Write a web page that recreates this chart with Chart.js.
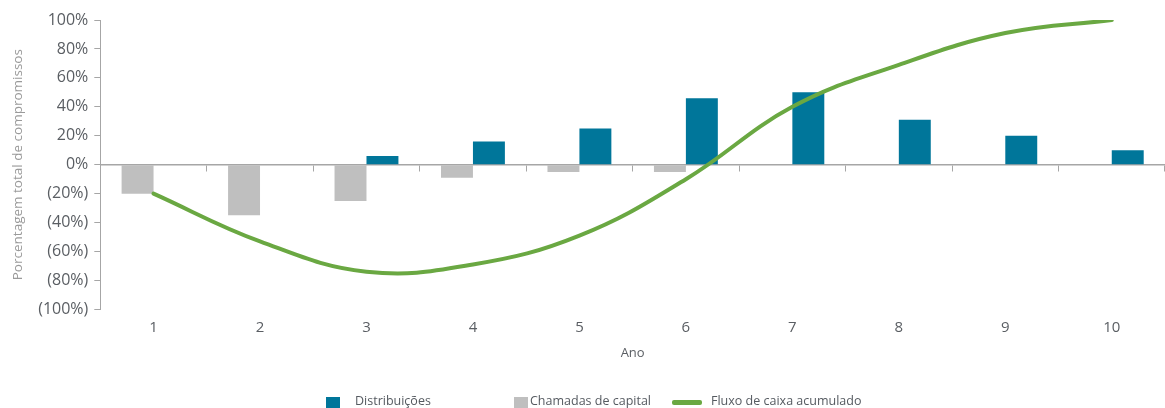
<!DOCTYPE html>
<html lang="pt">
<head>
<meta charset="utf-8">
<title>Fluxo de caixa</title>
<script src="https://cdn.jsdelivr.net/npm/chart.js@4.4.1/dist/chart.umd.min.js"></script>
<style>
  html, body { margin: 0; padding: 0; background: #ffffff; }
  #wrap { position: relative; width: 1165px; height: 408px; overflow: hidden; }
  #chart { position: absolute; left: 0; top: 0; }
  .legend-item { position: absolute; font-family: "Open Sans", sans-serif; font-size: 12.5px; color: #555a60; white-space: nowrap; line-height: 14px; }
  .legend-swatch { position: absolute; }
</style>
</head>
<body>
<div id="wrap">
  <canvas id="chart" width="1165" height="408"></canvas>
</div>
<script>
// Anos do ciclo do fundo
const anos = ['1', '2', '3', '4', '5', '6', '7', '8', '9', '10'];

// Percentual do total de compromissos
const chamadasDeCapital = [-20, -35, -25, -9, -5, -5, null, null, null, null];
const distribuicoes     = [null, null, 6, 16, 25, 46, 50, 31, 20, 10];
const fluxoAcumulado    = [-20, -53, -74, -69, -49, -10, 40, 69, 91, 100];

// Eixo vertical
const yMin = -100, yMax = 100, yStep = 20;

const corDistribuicoes = '#00769a';
const corChamadas = '#bfbfbf';
const corFluxo = '#6aa842';
const corEixo = '#a6a6a6';
const corTexto = '#5a5e63';

function formatarPercentual(v) {
  return v < 0 ? '(' + Math.abs(v) + '%)' : v + '%';
}

const ctx = document.getElementById('chart').getContext('2d');
const chart = new Chart(ctx, {
  data: {
    labels: anos,
    datasets: [
      {
        type: 'line',
        label: 'Fluxo de caixa acumulado',
        data: fluxoAcumulado,
        borderColor: corFluxo,
        borderWidth: 4,
        borderCapStyle: 'round',
        pointRadius: 0,
        tension: 0.4,
        fill: false,
        order: 0
      },
      {
        type: 'bar',
        label: 'Chamadas de capital',
        data: chamadasDeCapital,
        backgroundColor: corChamadas,
        categoryPercentage: 0.6,
        barPercentage: 1.0,
        order: 1
      },
      {
        type: 'bar',
        label: 'Distribuições',
        data: distribuicoes,
        backgroundColor: corDistribuicoes,
        categoryPercentage: 0.6,
        barPercentage: 1.0,
        order: 1
      }
    ]
  },
  options: {
    responsive: false,
    animation: false,
    layout: { padding: { left: 10, top: 20, right: 0, bottom: 47 } },
    plugins: {
      legend: { display: false },
      tooltip: { enabled: false }
    },
    scales: {
      x: {
        type: 'category',
        position: 'bottom',
        offset: true,
        grid: { display: false, drawTicks: false },
        border: { display: false },
        ticks: {
          color: corTexto,
          font: { family: 'Open Sans', size: 15 },
          padding: 9,
          maxRotation: 0
        },
        title: {
          display: true,
          text: 'Ano',
          color: corTexto,
          font: { family: 'Open Sans', size: 13 },
          padding: { top: 0, bottom: 0 }
        }
      },
      // Linha do zero com marcas entre os anos
      xZero: {
        type: 'category',
        labels: anos,
        position: { y: 0 },
        offset: true,
        grid: {
          display: true,
          drawOnChartArea: false,
          drawTicks: true,
          tickLength: 6,
          color: corEixo,
          lineWidth: 1,
          offset: true
        },
        border: { display: true, color: corEixo, width: 1.5 },
        ticks: { display: false }
      },
      y: {
        min: yMin,
        max: yMax,
        grid: {
          drawOnChartArea: false,
          drawTicks: true,
          tickLength: 6,
          color: corEixo
        },
        border: { display: true, color: corEixo, width: 1 },
        ticks: {
          stepSize: yStep,
          color: corTexto,
          font: { family: 'Open Sans', size: 16 },
          padding: 6,
          callback: (v) => formatarPercentual(v)
        },
        title: {
          display: true,
          text: 'Porcentagem total de compromissos',
          color: '#9a9a9a',
          font: { family: 'Open Sans', size: 13.5 },
          padding: { top: 0, bottom: 6 }
        }
      }
    }
  }
});

// Legenda abaixo do gráfico
const legenda = [
  { texto: 'Distribuições', cor: corDistribuicoes, tipo: 'caixa', x: 326, tx: 355 },
  { texto: 'Chamadas de capital', cor: corChamadas, tipo: 'caixa', x: 514, tx: 530 },
  { texto: 'Fluxo de caixa acumulado', cor: corFluxo, tipo: 'linha', x: 672, tx: 711 }
];
const wrap = document.getElementById('wrap');
legenda.forEach(item => {
  const sw = document.createElement('div');
  sw.className = 'legend-swatch';
  sw.style.background = item.cor;
  sw.style.left = item.x + 'px';
  if (item.tipo === 'caixa') {
    sw.style.top = '397px'; sw.style.width = '14px'; sw.style.height = '14px';
  } else {
    sw.style.top = '400px'; sw.style.width = '30px'; sw.style.height = '5px';
    sw.style.borderRadius = '2px';
  }
  wrap.appendChild(sw);
  const tx = document.createElement('div');
  tx.className = 'legend-item';
  tx.style.left = item.tx + 'px';
  tx.style.top = '394px';
  tx.textContent = item.texto;
  wrap.appendChild(tx);
});
</script>
</body>
</html>
